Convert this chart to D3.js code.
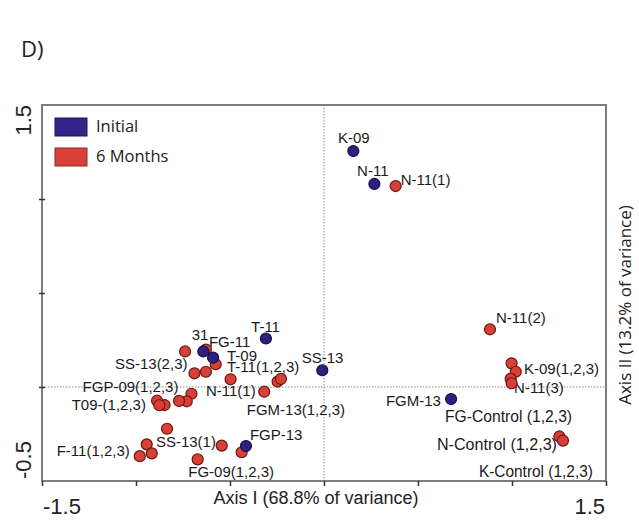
<!DOCTYPE html>
<html>
<head>
<meta charset="utf-8">
<script src="https://cdn.jsdelivr.net/npm/d3@7.9.0/dist/d3.min.js"></script>
<style>
  html, body { margin: 0; padding: 0; background: #fff; }
  svg { display: block; }
</style>
</head>
<body>
<svg id="chart" width="639" height="521"></svg>
<script>
// ---------------------------------------------------------------------------
// Data (PCA scores)
// ---------------------------------------------------------------------------
const seriesNames = ['Initial', '6 Months'];

// Initial samples (blue)
const initialX = [0.156, 0.268, -0.309, -0.009, -0.642, -0.590, 0.676, -0.415];
const initialY = [1.255, 1.080, 0.258, 0.089, 0.189, 0.156, -0.064, -0.314];

// 6 month samples (red)
const sixMonthX = [
  0.381, 0.883, 0.998, 1.020, 0.993, 0.998, 1.252, 1.271,
  -0.739, -0.628, -0.576, -0.689, -0.628, -0.497, -0.247, -0.229, -0.318,
  -0.705, -0.730, -0.771, -0.848, -0.888, -0.876, -0.835,
  -0.943, -0.980, -0.916, -0.544, -0.438, -0.672
];
const sixMonthY = [
  1.069, 0.307, 0.126, 0.081, 0.043, 0.020, -0.263, -0.285,
  0.189, 0.199, 0.121, 0.073, 0.081, 0.041, 0.029, 0.043, -0.025,
  -0.036, -0.076, -0.074, -0.096, -0.073, -0.097, -0.222,
  -0.305, -0.368, -0.353, -0.312, -0.347, -0.385
];

// sample labels, anchored in data units
const labelText = [
  'K-09', 'N-11', 'N-11(1)', 'N-11(2)', 'K-09(1,2,3)', 'N-11(3)', 'FGM-13',
  'FG-Control (1,2,3)', 'N-Control (1,2,3)', 'K-Control (1,2,3)',
  'T-11', 'SS-13', '31', 'FG-11', 'T-09', 'T-11(1,2,3)', 'N-11(1)',
  'FGM-13(1,2,3)', 'SS-13(2,3)', 'FGP-09(1,2,3)', 'T09-(1,2,3)',
  'F-11(1,2,3)', 'SS-13(1)', 'FGP-13', 'FG-09(1,2,3)'
];
const labelX = [
  0.074, 0.176, 0.408, 0.915, 1.064, 1.011, 0.622,
  0.644, 0.601, 0.824,
  -0.388, -0.119, -0.704, -0.612, -0.516, -0.516, -0.628,
  -0.411, -1.112, -1.284, -1.342,
  -1.422, -0.894, -0.394, -0.722
];
const labelY = [
  1.298, 1.122, 1.074, 0.342, 0.069, -0.034, -0.101,
  -0.185, -0.335, -0.477,
  0.294, 0.126, 0.250, 0.214, 0.140, 0.081, -0.048,
  -0.149, 0.094, -0.025, -0.122,
  -0.367, -0.318, -0.282, -0.477
];
const endAnchored = ['FGM-13'];

const xTicks = [-1.5, -1, -0.5, 0, 0.5, 1, 1.5];
const yTicks = [0, 0.5, 1];
const xTickLabels = [-1.5, 1.5];
const yTickLabels = [1.5, -0.5];

// ---------------------------------------------------------------------------
// Setup
// ---------------------------------------------------------------------------
const svg = d3.select('#chart');
const plotLeft = 42, plotRight = 606, plotTop = 105, plotBottom = 481;

const x = d3.scaleLinear().domain([-1.5, 1.5]).range([plotLeft, plotRight]);
const y = d3.scaleLinear().domain([-0.5, 1.5]).range([plotBottom, plotTop]);

const blue = '#2f2080', blueStroke = '#170d4a';
const red = '#d83f36', redStroke = '#6a1710';
const frameColor = '#6f6f6f';

// the control labels use a condensed face; fit them to the widths in the figure
const narrowWidth = {
  'FG-Control (1,2,3)': 127,
  'N-Control (1,2,3)': 120,
  'K-Control (1,2,3)': 114
};

// panel letter
svg.append('text')
  .attr('x', 21).attr('y', 57)
  .attr('font-family', 'Open Sans, sans-serif')
  .attr('font-size', 22)
  .attr('fill', '#222')
  .text('D)');

// dotted zero lines
svg.append('line')
  .attr('x1', plotLeft).attr('x2', plotRight)
  .attr('y1', y(0)).attr('y2', y(0))
  .attr('stroke', '#8a8a8a').attr('stroke-width', 1)
  .attr('stroke-dasharray', '1.5,1.5');
svg.append('line')
  .attr('x1', x(0)).attr('x2', x(0))
  .attr('y1', plotTop).attr('y2', plotBottom)
  .attr('stroke', '#8a8a8a').attr('stroke-width', 1)
  .attr('stroke-dasharray', '1.5,1.5');

// frame
svg.append('rect')
  .attr('x', plotLeft).attr('y', plotTop)
  .attr('width', plotRight - plotLeft).attr('height', plotBottom - plotTop)
  .attr('fill', 'none')
  .attr('stroke', frameColor)
  .attr('stroke-width', 1.8);

// x axis ticks (no labels, they are drawn separately)
const xAxis = svg.append('g')
  .attr('transform', `translate(0,${plotBottom})`)
  .call(d3.axisBottom(x).tickValues(xTicks).tickSize(5).tickFormat(''));
xAxis.select('.domain').remove();
xAxis.selectAll('line').attr('stroke', '#333').attr('stroke-width', 1.5);

// y axis ticks crossing the left edge
const yAxis = svg.append('g')
  .attr('transform', `translate(${plotLeft},0)`)
  .call(d3.axisLeft(y).tickValues(yTicks).tickFormat(''));
yAxis.select('.domain').remove();
yAxis.selectAll('line').attr('x1', -3).attr('x2', 3)
  .attr('stroke', '#333').attr('stroke-width', 1.5);

// tick labels
svg.selectAll('.xtl')
  .data(xTickLabels)
  .join('text')
  .attr('class', 'xtl')
  .attr('x', d => d < 0 ? x(d) + 1 : x(d) - 1)
  .attr('y', 514)
  .attr('text-anchor', d => d < 0 ? 'start' : 'end')
  .attr('font-family', 'Liberation Sans, Arial, sans-serif')
  .attr('font-size', 22)
  .attr('fill', '#222')
  .text(d => d.toFixed(1));

svg.selectAll('.ytl')
  .data(yTickLabels)
  .join('text')
  .attr('class', 'ytl')
  .attr('transform', d => `translate(31,${d > 0 ? y(d) : y(d) - 2}) rotate(-90)`)
  .attr('text-anchor', d => d > 0 ? 'end' : 'start')
  .attr('font-family', 'Liberation Sans, Arial, sans-serif')
  .attr('font-size', 22)
  .attr('fill', '#222')
  .text(d => d.toFixed(1));

// axis titles
svg.append('text')
  .attr('x', 316).attr('y', 504)
  .attr('text-anchor', 'middle')
  .attr('font-family', 'Liberation Sans Narrow, Arial Narrow, sans-serif')
  .attr('font-size', 18)
  .attr('textLength', 205)
  .attr('lengthAdjust', 'spacingAndGlyphs')
  .attr('fill', '#222')
  .text('Axis I (68.8% of variance)');

svg.append('text')
  .attr('transform', 'translate(631,305) rotate(-90)')
  .attr('text-anchor', 'middle')
  .attr('font-family', 'Open Sans, sans-serif')
  .attr('font-size', 17)
  .attr('fill', '#222')
  .text('Axis II (13.2% of variance)');

// sample labels (drawn under the points)
svg.selectAll('.lbl')
  .data(labelText.map((t, i) => ({ t, x: labelX[i], y: labelY[i] })))
  .join('text')
  .attr('class', 'lbl')
  .attr('x', d => x(d.x))
  .attr('y', d => y(d.y))
  .attr('text-anchor', d => endAnchored.includes(d.t) ? 'end' : 'start')
  .attr('font-family', 'Liberation Sans, Arial, sans-serif')
  .attr('font-size', d => narrowWidth[d.t] ? 16 : 15)
  .attr('textLength', d => narrowWidth[d.t] || null)
  .attr('lengthAdjust', 'spacingAndGlyphs')
  .attr('fill', '#1a1a1a')
  .text(d => d.t);

// points
const sixMonth = sixMonthX.map((v, i) => ({ x: v, y: sixMonthY[i] }));
const initial = initialX.map((v, i) => ({ x: v, y: initialY[i] }));

svg.append('g').selectAll('circle')
  .data(sixMonth)
  .join('circle')
  .attr('cx', d => x(d.x))
  .attr('cy', d => y(d.y))
  .attr('r', 5.5)
  .attr('fill', red)
  .attr('stroke', redStroke)
  .attr('stroke-width', 1.2);

svg.append('g').selectAll('circle')
  .data(initial)
  .join('circle')
  .attr('cx', d => x(d.x))
  .attr('cy', d => y(d.y))
  .attr('r', 5.5)
  .attr('fill', blue)
  .attr('stroke', blueStroke)
  .attr('stroke-width', 1.2);

// legend
const legend = svg.append('g').attr('transform', 'translate(55,118)');
legend.selectAll('rect')
  .data(seriesNames)
  .join('rect')
  .attr('x', 0)
  .attr('y', (d, i) => i * 30)
  .attr('width', 32).attr('height', 18)
  .attr('fill', (d, i) => i === 0 ? '#33238a' : '#d9403a')
  .attr('stroke', (d, i) => i === 0 ? '#1e1458' : '#8a2a22')
  .attr('stroke-width', 1);
legend.selectAll('text')
  .data(seriesNames)
  .join('text')
  .attr('x', 41)
  .attr('y', (d, i) => 14 + i * 30)
  .attr('font-family', 'Open Sans, sans-serif')
  .attr('font-size', 16.5)
  .attr('fill', '#222')
  .text(d => d);
</script>
</body>
</html>
